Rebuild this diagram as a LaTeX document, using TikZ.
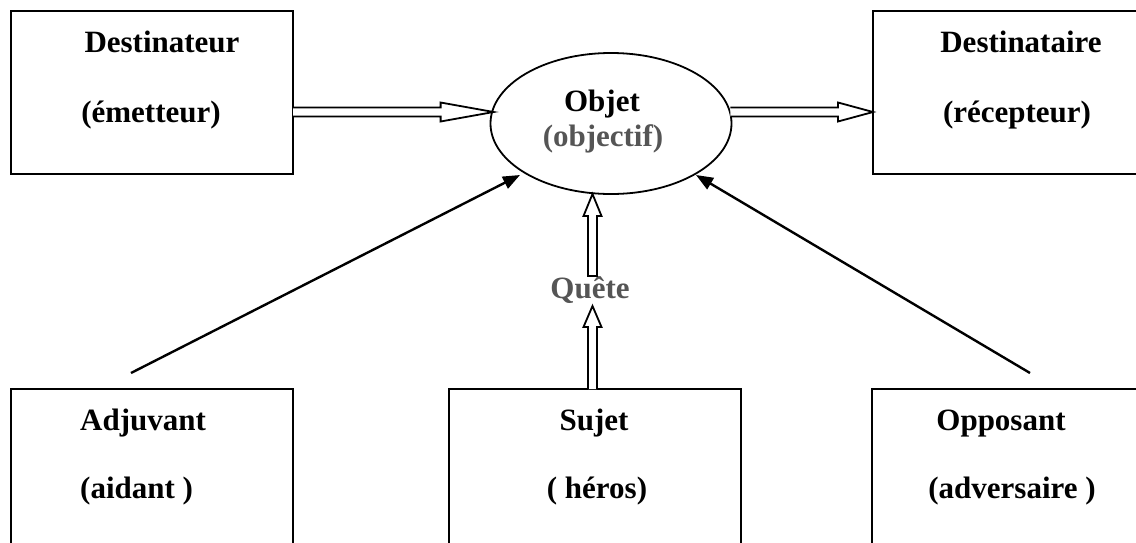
\documentclass[tikz,border=0pt]{standalone}
\usepackage{fontspec}
\setmainfont{Liberation Serif}
\usetikzlibrary{calc,arrows.meta,shapes.geometric}

% hollow double-line arrow pointing right: #1 start, #2 tip, #3 head length
\newcommand\hollowright[3]{%
  \draw[hollow] ($(#1)+(0,-4.5)$) -- ($(#2)+(-#3,-4.5)$) -- ($(#2)+(-#3,-9.5)$)
    -- (#2) -- ($(#2)+(-#3,9.5)$) -- ($(#2)+(-#3,4.5)$) -- ($(#1)+(0,4.5)$);}
% hollow double-line arrow pointing up: #1 start, #2 tip, #3 head length
\newcommand\hollowup[3]{%
  \draw[hollow] ($(#1)+(-4.5,0)$) -- ($(#2)+(-4.5,#3)$) -- ($(#2)+(-9,#3)$)
    -- (#2) -- ($(#2)+(9,#3)$) -- ($(#2)+(4.5,#3)$) -- ($(#1)+(4.5,0)$)}

\definecolor{greytext}{HTML}{555555}

\begin{document}
\begin{tikzpicture}[x=1pt,y=-1pt,
  every node/.style={font=\fontsize{31}{36}\selectfont\bfseries, inner sep=0pt},
  actant/.style={draw, line width=2pt, fill=none},
  hollow/.style={draw, line width=1.8pt, line join=miter, fill=white},
  push/.style={line width=2.4pt, -{Triangle[length=17pt,width=13pt]}},
  lbl/.style={anchor=base},
  grey/.style={text=greytext}]
  \clip (0,0) rectangle (1136,542);
  \fill[white] (0,0) rectangle (1136,542);

  % actant boxes
  \draw[actant] (11,11) rectangle (293,174);
  \coordinate (destbox) at (293,92.5);
  \draw[actant] (873,11) rectangle (1150,174);
  \coordinate (destrbox) at (873,92.5);
  \draw[actant] (11,389) rectangle (293,560);
  \draw[actant] (449,389) rectangle (741,560);
  \coordinate (sujbox) at (592.5,389);
  \draw[actant] (872,389) rectangle (1150,560);

  % object ellipse
  \node[ellipse, draw, line width=1.8pt, minimum width=241pt, minimum height=141pt]
    (obj) at (611,123.5) {};

  % labels
  \node[lbl] (dst1) at (162,52) {Destinateur};
  \node[lbl] (dst2) at (151,122) {(émetteur)};
  \node[lbl] (dre1) at (1021,52) {Destinataire};
  \node[lbl] (dre2) at (1017,122) {(récepteur)};
  \node[lbl] (ob1) at (602,111) {Objet};
  \node[lbl, grey] (ob2) at (603,146) {(objectif)};
  \node[lbl, grey] (quete) at (590,298) {Quête};
  \node[lbl, anchor=base west] (adj1) at (80,430) {Adjuvant};
  \node[lbl, anchor=base west] (adj2) at (80,498) {(aidant )};
  \node[lbl] (suj1) at (594,430) {Sujet};
  \node[lbl] (suj2) at (597,498) {( héros)};
  \node[lbl] (opp1) at (1001,430) {Opposant};
  \node[lbl] (opp2) at (1012,498) {(adversaire )};

  % sender -> object -> receiver
  \coordinate (aL) at (destbox |- 0,112);
  \coordinate (bL) at ($(obj.west |- aL)+(4,0)$);
  \hollowright{aL}{bL}{53}
  \coordinate (aR) at ($(obj.east |- aL)+(-2,0)$);
  \coordinate (bR) at (destrbox |- aL);
  \hollowright{aR}{bR}{35}

  % quest: subject -> object
  \coordinate (qTop) at (592.5,194);
  \coordinate (qMid) at (592.5,276);
  \coordinate (qLow) at (592.5,306);
  \hollowup{qMid}{qTop}{22} -- cycle;
  \hollowup{sujbox}{qLow}{21};

  % helper and opponent
  \coordinate (adjS) at (131,373);
  \coordinate (oppS) at (1030,373);
  \coordinate (adjT) at (520,175);
  \coordinate (oppT) at (696,175);
  \draw[push] (adjS) -- (adjT);
  \draw[push] (oppS) -- (oppT);
\end{tikzpicture}
\end{document}
